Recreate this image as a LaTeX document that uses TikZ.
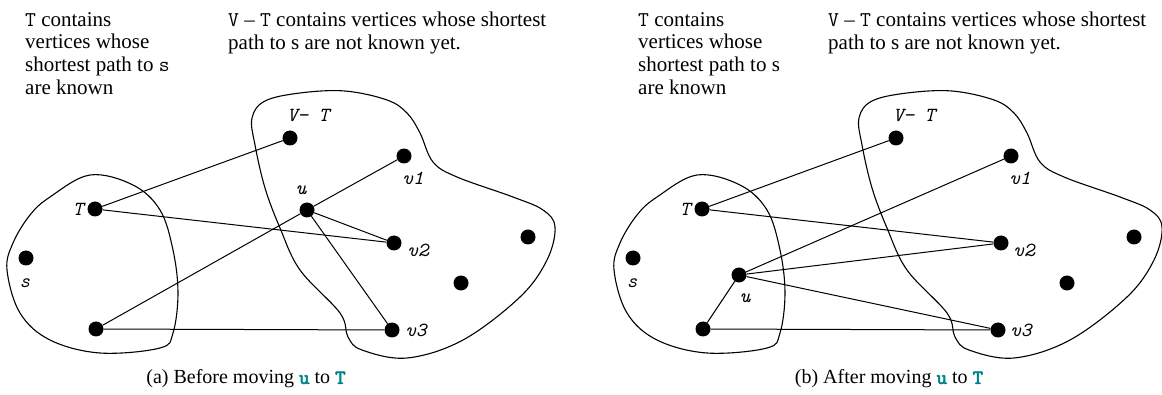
\documentclass[tikz,border=0pt]{standalone}
\usepackage{fontspec}
\setmainfont{Liberation Serif}
\newfontfamily\boldtt{lmmono10-regular.otf}[FakeBold=3]
\definecolor{capteal}{RGB}{0,133,138}
\begin{document}
\begin{tikzpicture}[x=1pt,y=-1pt,
  vtx/.style={circle,fill=black,inner sep=0pt,minimum size=15pt},
  edge/.style={line width=1pt},
  blob/.style={line width=1.1pt},
  lbl/.style={font=\fontsize{20}{20}\selectfont\ttfamily\itshape,inner sep=0pt},
  note/.style={font=\fontsize{21}{22.8}\selectfont,align=left,anchor=north west,inner sep=0pt},
  captext/.style={font=\fontsize{20}{22}\selectfont,inner sep=0pt}]
\useasboundingbox (0,0) rectangle (1162,395);
\tikzset{
  tblob/.pic={\draw[blob] plot[smooth cycle,tension=0.6] coordinates {(90,175) (133,185) (160,210) (173,250) (178,293) (173,333) (160,348) (100,353) (50,340) (20,313) (7,270) (13,243) (30,215) (50,197)};},
  vblob/.pic={\draw[blob] plot[smooth cycle,tension=0.6] coordinates {(252,118) (265,101) (300,93) (345,91) (387,100) (407,113) (420,133) (433,162) (457,177) (513,197) (543,210) (555,227) (547,260) (520,297) (463,340) (407,358) (362,350) (348,337) (340,313) (300,270) (280,228) (265,188) (255,145)};}
}
% ---------- panel (a)
\pic at (0,0) {tblob};
\pic at (0,0) {vblob};
\node[vtx] (aT) at (95,209) {};
\node[vtx] (as) at (26,258) {};
\node[vtx] (ab) at (96,329) {};
\node[vtx] (avt) at (290,138) {};
\node[vtx] (au) at (307,210) {};
\node[vtx] (av1) at (404,156) {};
\node[vtx] (av2) at (394,243) {};
\node[vtx] (av3) at (392,330) {};
\node[vtx] (ax1) at (528,237) {};
\node[vtx] (ax2) at (461,283) {};
\draw[edge] (aT) -- (avt);
\draw[edge] (aT) -- (av2);
\draw[edge] (ab) -- (au);
\draw[edge] (ab) -- (av3);
\draw[edge] (au) -- (av1);
\draw[edge] (au) -- (av2);
\draw[edge] (au) -- (av3);
\node[lbl] (aTl) at (78,209) {T};
\node[lbl] (asl) at (25,283) {s};
\node[lbl] (avtl) at (308,115) {V− T};
\node[lbl] (aul) at (301,190) {u};
\node[lbl] (av1l) at (413,178) {v1};
\node[lbl] (av2l) at (418,250) {v2};
\node[lbl] (av3l) at (416,330) {v3};
\node[note] (an1) at (25,12) {\texttt{T} contains\\vertices whose\\shortest path to \texttt{s}\\are known};
\node[note] (an2) at (228,12) {\texttt{V} – \texttt{T} contains vertices whose shortest\\path to s are not known yet.};
\node[captext] (acap) at (246,379) {(a) Before moving \textcolor{capteal}{\boldtt u} to \textcolor{capteal}{\boldtt T}};
% ---------- panel (b)
\pic at (607,0) {tblob};
\pic at (607,0) {vblob};
\node[vtx] (bT) at (702,209) {};
\node[vtx] (bs) at (633,258) {};
\node[vtx] (bb) at (703,329) {};
\node[vtx] (bvt) at (896,138) {};
\node[vtx] (bu) at (739,275) {};
\node[vtx] (bv1) at (1011,156) {};
\node[vtx] (bv2) at (1001,243) {};
\node[vtx] (bv3) at (998,330) {};
\node[vtx] (bx1) at (1134,237) {};
\node[vtx] (bx2) at (1067,283) {};
\draw[edge] (bT) -- (bvt);
\draw[edge] (bT) -- (bv2);
\draw[edge] (bb) -- (bu);
\draw[edge] (bb) -- (bv3);
\draw[edge] (bu) -- (bv1);
\draw[edge] (bu) -- (bv2);
\draw[edge] (bu) -- (bv3);
\node[lbl] (bTl) at (685,209) {T};
\node[lbl] (bsl) at (632,283) {s};
\node[lbl] (bvtl) at (914,115) {V− T};
\node[lbl] (bul) at (745,298) {u};
\node[lbl] (bv1l) at (1020,178) {v1};
\node[lbl] (bv2l) at (1024,250) {v2};
\node[lbl] (bv3l) at (1021,330) {v3};
\node[note] (bn1) at (638,12) {\texttt{T} contains\\vertices whose\\shortest path to s\\are known};
\node[note] (bn2) at (828,12) {\texttt{V} – \texttt{T} contains vertices whose shortest\\path to s are not known yet.};
\node[captext] (bcap) at (889,379) {(b) After moving \textcolor{capteal}{\boldtt u} to \textcolor{capteal}{\boldtt T}};
\end{tikzpicture}
\end{document}
